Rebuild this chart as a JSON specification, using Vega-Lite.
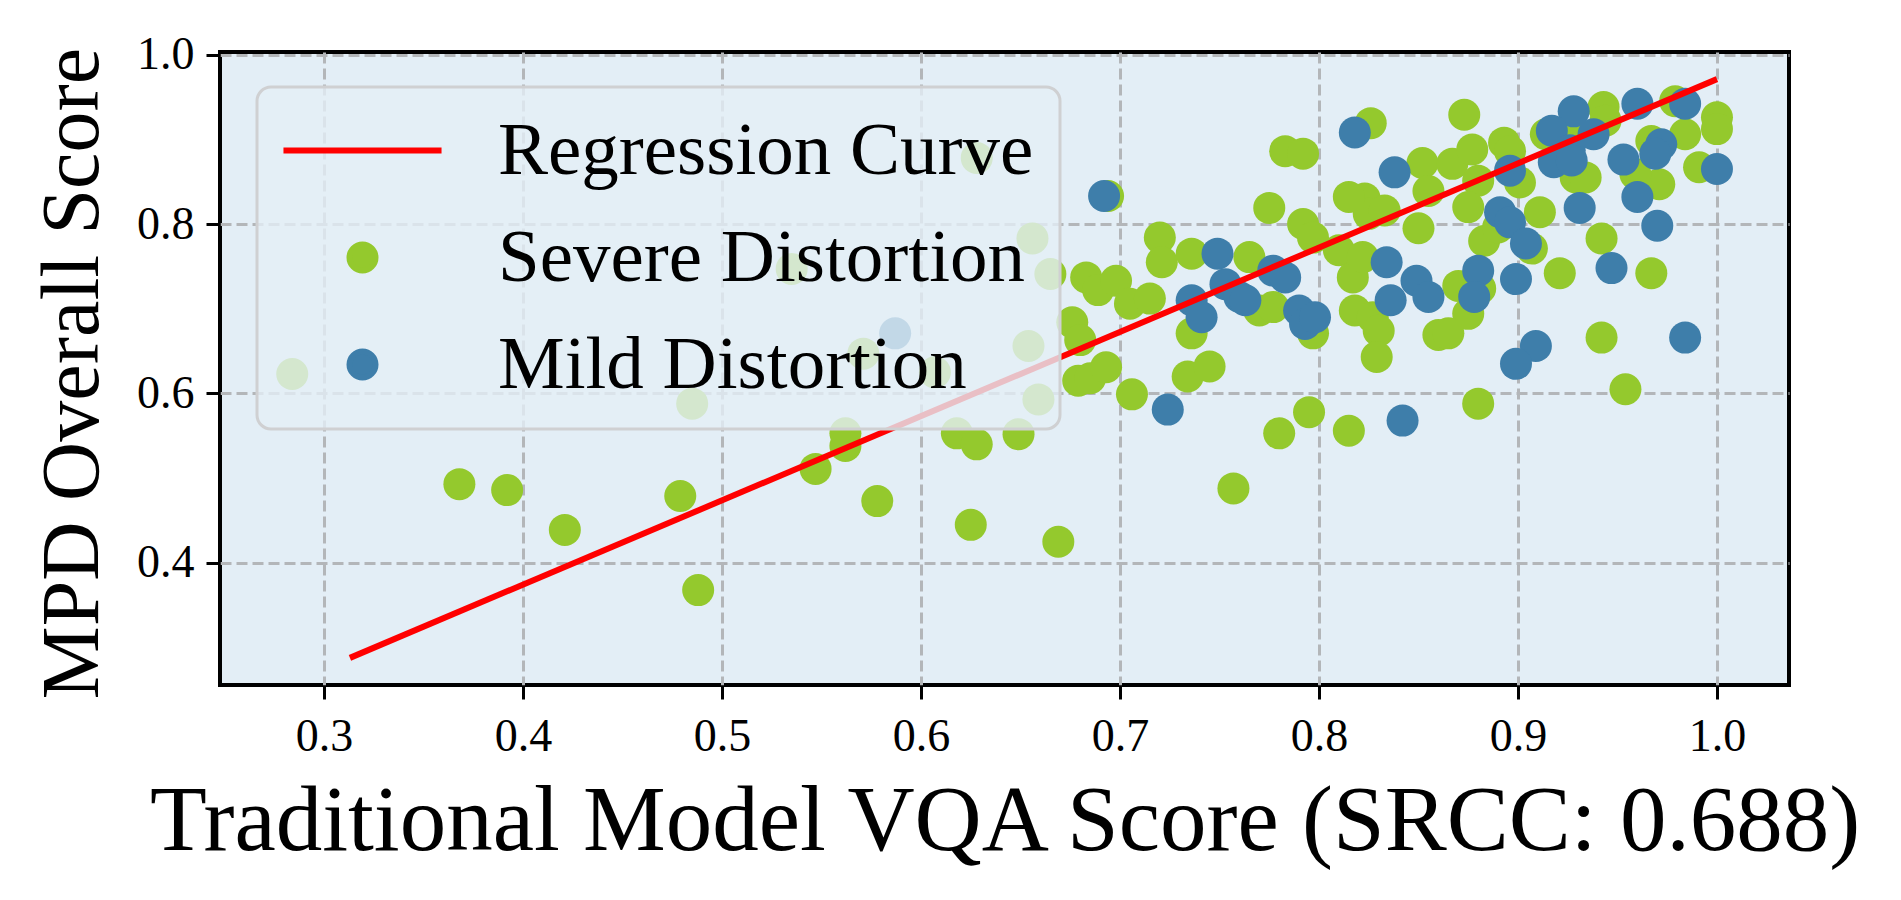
{
  "$schema": "https://vega.github.io/schema/vega-lite/v6.json",
  "autosize": {"type": "none"},
  "width": 1569,
  "height": 633,
  "padding": {"left": 220, "top": 52, "right": 112, "bottom": 215},
  "background": "white",
  "config": {
    "font": "Liberation Serif",
    "view": {"fill": "#e3eef6", "stroke": "black", "strokeWidth": 4},
    "axis": {
      "labelFont": "Liberation Serif",
      "labelFontSize": 46,
      "labelColor": "black",
      "titleFont": "Liberation Serif",
      "titleFontWeight": "normal",
      "titleColor": "black",
      "domain": false,
      "tickColor": "black",
      "tickWidth": 3,
      "tickSize": 14,
      "grid": true,
      "gridColor": "#b3b6b9",
      "gridWidth": 3,
      "gridDash": [11, 5]
    }
  },
  "data": {
    "values": [
      {"s": "Severe Distortion", "x": 0.284, "y": 0.623},
      {"s": "Severe Distortion", "x": 0.368, "y": 0.493},
      {"s": "Severe Distortion", "x": 0.392, "y": 0.486},
      {"s": "Severe Distortion", "x": 0.421, "y": 0.439},
      {"s": "Severe Distortion", "x": 0.479, "y": 0.479},
      {"s": "Severe Distortion", "x": 0.485, "y": 0.588},
      {"s": "Severe Distortion", "x": 0.488, "y": 0.368},
      {"s": "Severe Distortion", "x": 0.535, "y": 0.747},
      {"s": "Severe Distortion", "x": 0.547, "y": 0.511},
      {"s": "Severe Distortion", "x": 0.562, "y": 0.553},
      {"s": "Severe Distortion", "x": 0.562, "y": 0.538},
      {"s": "Severe Distortion", "x": 0.571, "y": 0.647},
      {"s": "Severe Distortion", "x": 0.578, "y": 0.473},
      {"s": "Severe Distortion", "x": 0.607, "y": 0.625},
      {"s": "Severe Distortion", "x": 0.618, "y": 0.553},
      {"s": "Severe Distortion", "x": 0.628, "y": 0.540},
      {"s": "Severe Distortion", "x": 0.625, "y": 0.445},
      {"s": "Severe Distortion", "x": 0.649, "y": 0.552},
      {"s": "Severe Distortion", "x": 0.628, "y": 0.878},
      {"s": "Severe Distortion", "x": 0.656, "y": 0.783},
      {"s": "Severe Distortion", "x": 0.665, "y": 0.741},
      {"s": "Severe Distortion", "x": 0.654, "y": 0.656},
      {"s": "Severe Distortion", "x": 0.659, "y": 0.593},
      {"s": "Severe Distortion", "x": 0.669, "y": 0.425},
      {"s": "Severe Distortion", "x": 0.694, "y": 0.833},
      {"s": "Severe Distortion", "x": 0.683, "y": 0.737},
      {"s": "Severe Distortion", "x": 0.689, "y": 0.722},
      {"s": "Severe Distortion", "x": 0.698, "y": 0.733},
      {"s": "Severe Distortion", "x": 0.705, "y": 0.706},
      {"s": "Severe Distortion", "x": 0.715, "y": 0.712},
      {"s": "Severe Distortion", "x": 0.676, "y": 0.684},
      {"s": "Severe Distortion", "x": 0.680, "y": 0.663},
      {"s": "Severe Distortion", "x": 0.679, "y": 0.615},
      {"s": "Severe Distortion", "x": 0.685, "y": 0.618},
      {"s": "Severe Distortion", "x": 0.693, "y": 0.631},
      {"s": "Severe Distortion", "x": 0.720, "y": 0.784},
      {"s": "Severe Distortion", "x": 0.721, "y": 0.755},
      {"s": "Severe Distortion", "x": 0.706, "y": 0.599},
      {"s": "Severe Distortion", "x": 0.736, "y": 0.765},
      {"s": "Severe Distortion", "x": 0.765, "y": 0.761},
      {"s": "Severe Distortion", "x": 0.736, "y": 0.671},
      {"s": "Severe Distortion", "x": 0.734, "y": 0.620},
      {"s": "Severe Distortion", "x": 0.745, "y": 0.632},
      {"s": "Severe Distortion", "x": 0.770, "y": 0.698},
      {"s": "Severe Distortion", "x": 0.777, "y": 0.702},
      {"s": "Severe Distortion", "x": 0.797, "y": 0.671},
      {"s": "Severe Distortion", "x": 0.775, "y": 0.819},
      {"s": "Severe Distortion", "x": 0.783, "y": 0.886},
      {"s": "Severe Distortion", "x": 0.792, "y": 0.883},
      {"s": "Severe Distortion", "x": 0.792, "y": 0.800},
      {"s": "Severe Distortion", "x": 0.797, "y": 0.784},
      {"s": "Severe Distortion", "x": 0.810, "y": 0.769},
      {"s": "Severe Distortion", "x": 0.817, "y": 0.737},
      {"s": "Severe Distortion", "x": 0.822, "y": 0.761},
      {"s": "Severe Distortion", "x": 0.818, "y": 0.698},
      {"s": "Severe Distortion", "x": 0.827, "y": 0.690},
      {"s": "Severe Distortion", "x": 0.830, "y": 0.674},
      {"s": "Severe Distortion", "x": 0.829, "y": 0.643},
      {"s": "Severe Distortion", "x": 0.826, "y": 0.919},
      {"s": "Severe Distortion", "x": 0.823, "y": 0.830},
      {"s": "Severe Distortion", "x": 0.825, "y": 0.812},
      {"s": "Severe Distortion", "x": 0.833, "y": 0.816},
      {"s": "Severe Distortion", "x": 0.815, "y": 0.832},
      {"s": "Severe Distortion", "x": 0.852, "y": 0.872},
      {"s": "Severe Distortion", "x": 0.850, "y": 0.795},
      {"s": "Severe Distortion", "x": 0.757, "y": 0.488},
      {"s": "Severe Distortion", "x": 0.780, "y": 0.553},
      {"s": "Severe Distortion", "x": 0.795, "y": 0.578},
      {"s": "Severe Distortion", "x": 0.815, "y": 0.556},
      {"s": "Severe Distortion", "x": 0.873, "y": 0.929},
      {"s": "Severe Distortion", "x": 0.855, "y": 0.839},
      {"s": "Severe Distortion", "x": 0.867, "y": 0.871},
      {"s": "Severe Distortion", "x": 0.877, "y": 0.888},
      {"s": "Severe Distortion", "x": 0.893, "y": 0.896},
      {"s": "Severe Distortion", "x": 0.896, "y": 0.886},
      {"s": "Severe Distortion", "x": 0.880, "y": 0.851},
      {"s": "Severe Distortion", "x": 0.875, "y": 0.820},
      {"s": "Severe Distortion", "x": 0.883, "y": 0.780},
      {"s": "Severe Distortion", "x": 0.890, "y": 0.796},
      {"s": "Severe Distortion", "x": 0.911, "y": 0.814},
      {"s": "Severe Distortion", "x": 0.907, "y": 0.771},
      {"s": "Severe Distortion", "x": 0.901, "y": 0.849},
      {"s": "Severe Distortion", "x": 0.914, "y": 0.906},
      {"s": "Severe Distortion", "x": 0.928, "y": 0.910},
      {"s": "Severe Distortion", "x": 0.929, "y": 0.855},
      {"s": "Severe Distortion", "x": 0.934, "y": 0.855},
      {"s": "Severe Distortion", "x": 0.943, "y": 0.938},
      {"s": "Severe Distortion", "x": 0.944, "y": 0.922},
      {"s": "Severe Distortion", "x": 0.967, "y": 0.898},
      {"s": "Severe Distortion", "x": 0.971, "y": 0.847},
      {"s": "Severe Distortion", "x": 0.959, "y": 0.859},
      {"s": "Severe Distortion", "x": 0.979, "y": 0.945},
      {"s": "Severe Distortion", "x": 0.984, "y": 0.906},
      {"s": "Severe Distortion", "x": 0.991, "y": 0.867},
      {"s": "Severe Distortion", "x": 1.000, "y": 0.926},
      {"s": "Severe Distortion", "x": 1.000, "y": 0.912},
      {"s": "Severe Distortion", "x": 0.942, "y": 0.783},
      {"s": "Severe Distortion", "x": 0.921, "y": 0.742},
      {"s": "Severe Distortion", "x": 0.967, "y": 0.742},
      {"s": "Severe Distortion", "x": 0.881, "y": 0.724},
      {"s": "Severe Distortion", "x": 0.870, "y": 0.727},
      {"s": "Severe Distortion", "x": 0.875, "y": 0.694},
      {"s": "Severe Distortion", "x": 0.860, "y": 0.669},
      {"s": "Severe Distortion", "x": 0.865, "y": 0.671},
      {"s": "Severe Distortion", "x": 0.942, "y": 0.666},
      {"s": "Severe Distortion", "x": 0.880, "y": 0.588},
      {"s": "Severe Distortion", "x": 0.954, "y": 0.605},
      {"s": "Mild Distortion", "x": 0.587, "y": 0.671},
      {"s": "Mild Distortion", "x": 0.692, "y": 0.833},
      {"s": "Mild Distortion", "x": 0.818, "y": 0.908},
      {"s": "Mild Distortion", "x": 0.838, "y": 0.861},
      {"s": "Mild Distortion", "x": 0.749, "y": 0.765},
      {"s": "Mild Distortion", "x": 0.736, "y": 0.710},
      {"s": "Mild Distortion", "x": 0.741, "y": 0.690},
      {"s": "Mild Distortion", "x": 0.753, "y": 0.729},
      {"s": "Mild Distortion", "x": 0.760, "y": 0.714},
      {"s": "Mild Distortion", "x": 0.763, "y": 0.710},
      {"s": "Mild Distortion", "x": 0.777, "y": 0.745},
      {"s": "Mild Distortion", "x": 0.783, "y": 0.737},
      {"s": "Mild Distortion", "x": 0.790, "y": 0.698},
      {"s": "Mild Distortion", "x": 0.793, "y": 0.682},
      {"s": "Mild Distortion", "x": 0.798, "y": 0.690},
      {"s": "Mild Distortion", "x": 0.834, "y": 0.755},
      {"s": "Mild Distortion", "x": 0.836, "y": 0.710},
      {"s": "Mild Distortion", "x": 0.849, "y": 0.733},
      {"s": "Mild Distortion", "x": 0.724, "y": 0.581},
      {"s": "Mild Distortion", "x": 0.842, "y": 0.568},
      {"s": "Mild Distortion", "x": 0.928, "y": 0.933},
      {"s": "Mild Distortion", "x": 0.917, "y": 0.910},
      {"s": "Mild Distortion", "x": 0.938, "y": 0.906},
      {"s": "Mild Distortion", "x": 0.926, "y": 0.887},
      {"s": "Mild Distortion", "x": 0.918, "y": 0.873},
      {"s": "Mild Distortion", "x": 0.927, "y": 0.875},
      {"s": "Mild Distortion", "x": 0.960, "y": 0.942},
      {"s": "Mild Distortion", "x": 0.984, "y": 0.942},
      {"s": "Mild Distortion", "x": 0.953, "y": 0.876},
      {"s": "Mild Distortion", "x": 0.972, "y": 0.894},
      {"s": "Mild Distortion", "x": 0.969, "y": 0.883},
      {"s": "Mild Distortion", "x": 0.960, "y": 0.832},
      {"s": "Mild Distortion", "x": 0.931, "y": 0.819},
      {"s": "Mild Distortion", "x": 0.970, "y": 0.798},
      {"s": "Mild Distortion", "x": 0.896, "y": 0.863},
      {"s": "Mild Distortion", "x": 0.891, "y": 0.814},
      {"s": "Mild Distortion", "x": 0.896, "y": 0.802},
      {"s": "Mild Distortion", "x": 0.904, "y": 0.777},
      {"s": "Mild Distortion", "x": 0.880, "y": 0.745},
      {"s": "Mild Distortion", "x": 0.878, "y": 0.714},
      {"s": "Mild Distortion", "x": 0.855, "y": 0.714},
      {"s": "Mild Distortion", "x": 0.899, "y": 0.735},
      {"s": "Mild Distortion", "x": 0.947, "y": 0.748},
      {"s": "Mild Distortion", "x": 0.909, "y": 0.656},
      {"s": "Mild Distortion", "x": 0.899, "y": 0.635},
      {"s": "Mild Distortion", "x": 0.984, "y": 0.666},
      {"s": "Mild Distortion", "x": 1.000, "y": 0.865},
      {"s": "Regression Curve", "x": 0.313, "y": 0.288},
      {"s": "Regression Curve", "x": 1.0, "y": 0.971}
    ]
  },
  "encoding": {
    "x": {
      "field": "x", "type": "quantitative",
      "scale": {"domain": [0.2477, 1.0362], "nice": false, "zero": false},
      "axis": {
        "values": [0.3, 0.4, 0.5, 0.6, 0.7, 0.8, 0.9, 1.0],
        "format": ".1f",
        "labelPadding": 15,
        "title": "Traditional Model VQA Score (SRCC: 0.688)",
        "titleFontSize": 93,
        "titleBaseline": "alphabetic",
        "titleY": 164,
        "titleX": 784.5,
        "titleAlign": "center"
      }
    },
    "y": {
      "field": "y", "type": "quantitative",
      "scale": {"domain": [0.256, 1.003], "nice": false, "zero": false},
      "axis": {
        "values": [0.4, 0.6, 0.8, 1.0],
        "format": ".1f",
        "labelPadding": 12,
        "title": "MPD Overall Score",
        "titleFontSize": 82,
        "titleAngle": -90,
        "titleBaseline": "alphabetic",
        "titleAlign": "center",
        "titleX": -123,
        "titleY": 321
      }
    },
    "color": {
      "field": "s", "type": "nominal",
      "scale": {
        "domain": ["Regression Curve", "Severe Distortion", "Mild Distortion"],
        "range": ["#ff0000", "#94c92d", "#3e7eaa"]
      },
      "legend": {
        "title": null,
        "orient": "none",
        "legendX": 37,
        "legendY": 35,
        "labelFont": "Liberation Serif",
        "labelFontSize": 75,
        "labelColor": "black",
        "labelLimit": 1000,
        "fillColor": "rgba(228,239,246,0.8)",
        "strokeColor": "#cfd0d2",
        "cornerRadius": 14,
        "padding": 26,
        "rowPadding": 31,
        "symbolOffset": 42,
        "labelOffset": 98,
        "encode": {
          "legend": {"update": {"strokeWidth": {"value": 3}}},
          "symbols": {
            "update": {
              "shape": {"signal": "datum.value === 'Regression Curve' ? 'M-6.08,0L6.08,0' : 'circle'"},
              "size": {"value": 676},
              "strokeWidth": {"value": 6},
              "fill": {"scale": "color", "field": "value"},
              "stroke": {"scale": "color", "field": "value"},
              "opacity": {"value": 1},
              "fillOpacity": {"value": 1},
              "strokeOpacity": {"value": 1}
            }
          }
        }
      }
    }
  },
  "layer": [
    {
      "transform": [{"filter": "datum.s !== 'Regression Curve'"}],
      "mark": {"type": "circle", "size": 1024, "opacity": 1, "strokeWidth": 0}
    },
    {
      "transform": [{"filter": "datum.s === 'Regression Curve'"}],
      "mark": {"type": "line", "strokeWidth": 6}
    }
  ]
}
